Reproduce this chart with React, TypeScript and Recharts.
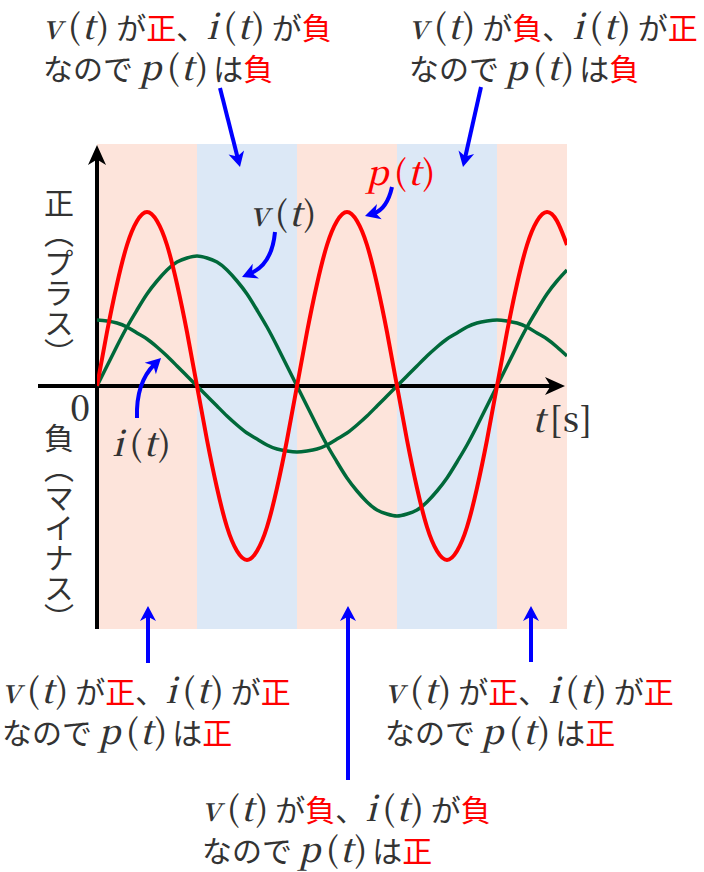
import React from 'react'
import { ComposedChart, Line, XAxis, YAxis, ReferenceArea, ReferenceLine } from 'recharts'

// time axis (1 unit = a quarter period of v)
const times = [
  0, 0.1, 0.2, 0.3, 0.4, 0.5, 0.6, 0.7, 0.8, 0.9, 1.0,
  1.1, 1.2, 1.3, 1.4, 1.5, 1.6, 1.7, 1.8, 1.9, 2.0,
  2.1, 2.2, 2.3, 2.4, 2.5, 2.6, 2.7, 2.8, 2.9, 3.0,
  3.1, 3.2, 3.3, 3.4, 3.5, 3.6, 3.7, 3.8, 3.9, 4.0,
  4.1, 4.2, 4.3, 4.4, 4.5, 4.6, 4.7
]

const voltage = [
  0, 0.2, 0.4, 0.59, 0.76, 0.92, 1.05, 1.16, 1.24, 1.28, 1.3,
  1.28, 1.24, 1.16, 1.05, 0.92, 0.76, 0.59, 0.4, 0.2, 0,
  -0.2, -0.4, -0.59, -0.76, -0.92, -1.05, -1.16, -1.24, -1.28, -1.3,
  -1.28, -1.24, -1.16, -1.05, -0.92, -0.76, -0.59, -0.4, -0.2, 0,
  0.2, 0.4, 0.59, 0.76, 0.92, 1.05, 1.16
]

const current = [
  0.66, 0.65, 0.63, 0.59, 0.53, 0.47, 0.39, 0.3, 0.2, 0.1, 0,
  -0.1, -0.2, -0.3, -0.39, -0.47, -0.53, -0.59, -0.63, -0.65, -0.66,
  -0.65, -0.63, -0.59, -0.53, -0.47, -0.39, -0.3, -0.2, -0.1, 0,
  0.1, 0.2, 0.3, 0.39, 0.47, 0.53, 0.59, 0.63, 0.65, 0.66,
  0.65, 0.63, 0.59, 0.53, 0.47, 0.39, 0.3
]

const power = [
  0, 0.54, 1.02, 1.41, 1.65, 1.74, 1.65, 1.41, 1.02, 0.54, 0,
  -0.54, -1.02, -1.41, -1.65, -1.74, -1.65, -1.41, -1.02, -0.54, 0,
  0.54, 1.02, 1.41, 1.65, 1.74, 1.65, 1.41, 1.02, 0.54, 0,
  -0.54, -1.02, -1.41, -1.65, -1.74, -1.65, -1.41, -1.02, -0.54, 0,
  0.54, 1.02, 1.41, 1.65, 1.74, 1.65, 1.41
]

// sign bands of p(t)
const bandStart = [0, 1, 2, 3, 4]
const bandEnd = [1, 2, 3, 4, 4.7]
const bandSign = ['+', '-', '+', '-', '+']

// notes: top-left, top-right, bottom-left, bottom-center, bottom-right
const noteV = ['正', '負', '正', '負', '正']
const noteI = ['負', '正', '正', '負', '正']
const noteP = ['負', '負', '正', '正', '正']

const data = times.map((t, k) => ({ t, v: voltage[k], i: current[k], p: power[k] }))

const SERIF = '"Noto Serif CJK JP", "DejaVu Serif", serif'
const JP = '"Noto Sans CJK JP", "Noto Sans", sans-serif'
const GRAY = '#333333'
const RED = '#ff0000'
const BLUE = '#0000ff'
const GREEN = '#00693a'

const arrowShape = (color: string, w: number, len: number, wid: number, bend = 0) => (props: any) => {
  const { x1, y1, x2, y2 } = props
  if (x1 == null || x2 == null) return <g />
  const dx = x2 - x1
  const dy = y2 - y1
  const cx = (x1 + x2) / 2 + bend * dy
  const cy = (y1 + y2) / 2 - bend * dx
  let tx = x2 - (bend ? cx : x1)
  let ty = y2 - (bend ? cy : y1)
  const tl = Math.hypot(tx, ty) || 1
  tx /= tl
  ty /= tl
  const nx = -ty
  const ny = tx
  const bx = x2 - tx * len
  const by = y2 - ty * len
  const ex = x2 - tx * len * 0.6
  const ey = y2 - ty * len * 0.6
  const mx = x2 - tx * len * 0.72
  const my = y2 - ty * len * 0.72
  const shaft = bend ? `M${x1},${y1} Q${cx},${cy} ${ex},${ey}` : `M${x1},${y1} L${ex},${ey}`
  const head = `M${x2},${y2} L${bx + (nx * wid) / 2},${by + (ny * wid) / 2} L${mx},${my} L${bx - (nx * wid) / 2},${by - (ny * wid) / 2} Z`
  return (
    <g>
      <path d={shaft} stroke={color} strokeWidth={w} fill="none" />
      <path d={head} fill={color} />
    </g>
  )
}

const Fn = ({ name, color = GRAY }: { name: string; color?: string }) => (
  <span style={{ fontFamily: SERIF, fontSize: 34, fontWeight: 500, color, whiteSpace: 'nowrap' }}>
    <i>{name}</i>
    <span style={{ marginLeft: 6 }}>(</span>
    <i style={{ marginLeft: 1 }}>t</i>
    <span style={{ marginLeft: 2 }}>)</span>
  </span>
)

const Jp = ({ children, color = GRAY, ml = 0 }: { children: React.ReactNode; color?: string; ml?: number }) => (
  <span style={{ fontFamily: JP, fontSize: 30, color, marginLeft: ml }}>{children}</span>
)

const row = { height: 41, lineHeight: '41px', whiteSpace: 'nowrap' as const }

const Note = ({ k, left, top }: { k: number; left: number; top: number }) => (
  <div style={{ position: 'absolute', left, top }}>
    <div style={row}>
      <Fn name="v" />
      <Jp ml={7}>が</Jp>
      <Jp color={RED}>{noteV[k]}</Jp>
      <Jp>、</Jp>
      <Fn name="i" />
      <Jp ml={7}>が</Jp>
      <Jp color={RED}>{noteI[k]}</Jp>
    </div>
    <div style={row}>
      <Jp>なので</Jp>
      <span style={{ marginLeft: 6 }} />
      <Fn name="p" />
      <Jp ml={5}>は</Jp>
      <Jp color={RED}>{noteP[k]}</Jp>
    </div>
  </div>
)

export default function App() {
  return (
    <div style={{ position: 'relative', width: 704, height: 872, background: '#fff' }}>
      <style>{'body{margin:0}'}</style>
      <div style={{ position: 'absolute', left: 0, top: 0 }}>
        <ComposedChart width={704} height={872} data={data} margin={{ top: 144, right: 137, bottom: 243, left: 97 }}>
          <XAxis type="number" dataKey="t" domain={[0, 4.7]} allowDataOverflow hide />
          <YAxis type="number" domain={[-2.43, 2.42]} allowDataOverflow hide />
          {bandStart.map((s, k) => (
            <ReferenceArea
              key={`band-${k}`}
              x1={s}
              x2={bandEnd[k]}
              fill={bandSign[k] === '+' ? '#fde4db' : '#dce8f6'}
              fillOpacity={1}
              stroke="none"
            />
          ))}
          <ReferenceLine
            segment={[{ x: -0.59, y: 0 }, { x: 4.68, y: 0 }]}
            ifOverflow="visible"
            shape={arrowShape('#000', 4, 20, 18)}
          />
          <ReferenceLine
            segment={[{ x: 0, y: -2.43 }, { x: 0, y: 2.41 }]}
            ifOverflow="visible"
            shape={arrowShape('#000', 4, 20, 18)}
          />
          <Line type="natural" dataKey="i" stroke={GREEN} strokeWidth={3.5} dot={false} activeDot={false} isAnimationActive={false} />
          <Line type="natural" dataKey="v" stroke={GREEN} strokeWidth={3.5} dot={false} activeDot={false} isAnimationActive={false} />
          <Line type="natural" dataKey="p" stroke={RED} strokeWidth={4} dot={false} activeDot={false} isAnimationActive={false} />
          {/* annotation arrows */}
          <ReferenceLine segment={[{ x: 1.23, y: 2.98 }, { x: 1.43, y: 2.19 }]} ifOverflow="visible" shape={arrowShape(BLUE, 4, 15, 16)} />
          <ReferenceLine segment={[{ x: 3.84, y: 2.99 }, { x: 3.66, y: 2.19 }]} ifOverflow="visible" shape={arrowShape(BLUE, 4, 15, 16)} />
          <ReferenceLine segment={[{ x: 0.51, y: -2.77 }, { x: 0.51, y: -2.2 }]} ifOverflow="visible" shape={arrowShape(BLUE, 4, 15, 16)} />
          <ReferenceLine segment={[{ x: 2.51, y: -3.94 }, { x: 2.51, y: -2.2 }]} ifOverflow="visible" shape={arrowShape(BLUE, 4, 15, 16)} />
          <ReferenceLine segment={[{ x: 4.34, y: -2.76 }, { x: 4.34, y: -2.2 }]} ifOverflow="visible" shape={arrowShape(BLUE, 4, 15, 16)} />
          <ReferenceLine segment={[{ x: 1.78, y: 1.54 }, { x: 1.45, y: 1.09 }]} ifOverflow="visible" shape={arrowShape(BLUE, 4, 15, 16, 0.3)} />
          <ReferenceLine segment={[{ x: 2.95, y: 1.99 }, { x: 2.68, y: 1.7 }]} ifOverflow="visible" shape={arrowShape(BLUE, 4, 15, 16, 0.29)} />
          <ReferenceLine segment={[{ x: 0.4, y: -0.32 }, { x: 0.64, y: 0.28 }]} ifOverflow="visible" shape={arrowShape(BLUE, 4, 15, 16, 0.22)} />
        </ComposedChart>
      </div>

      <Note k={0} left={43} top={4} />
      <Note k={1} left={409} top={4} />
      <Note k={2} left={2} top={668} />
      <Note k={3} left={202} top={786} />
      <Note k={4} left={385} top={668} />

      {/* curve labels */}
      <div style={{ position: 'absolute', left: 250, top: 192, lineHeight: '40px' }}><Fn name="v" /></div>
      <div style={{ position: 'absolute', left: 366, top: 151, lineHeight: '40px' }}><Fn name="p" color={RED} /></div>
      <div style={{ position: 'absolute', left: 112, top: 422, lineHeight: '40px' }}><Fn name="i" /></div>

      {/* axis labels */}
      <div style={{ position: 'absolute', left: 70, top: 386, lineHeight: '40px', fontFamily: SERIF, fontSize: 36, fontWeight: 500, color: GRAY }}>0</div>
      <div style={{ position: 'absolute', left: 532, top: 398, lineHeight: '40px', fontFamily: SERIF, fontSize: 34, fontWeight: 500, color: GRAY }}>
        <i>t</i><span style={{ marginLeft: 5 }}>[</span><span style={{ marginLeft: 1 }}>s</span><span style={{ marginLeft: 1 }}>]</span>
      </div>
      <div style={{ position: 'absolute', left: 44, top: 188, writingMode: 'vertical-rl', fontFamily: JP, fontSize: 30, color: GRAY, lineHeight: '30px' }}>正（プラス）</div>
      <div style={{ position: 'absolute', left: 44, top: 423, writingMode: 'vertical-rl', fontFamily: JP, fontSize: 30, color: GRAY, lineHeight: '30px' }}>負（マイナス）</div>
    </div>
  )
}
